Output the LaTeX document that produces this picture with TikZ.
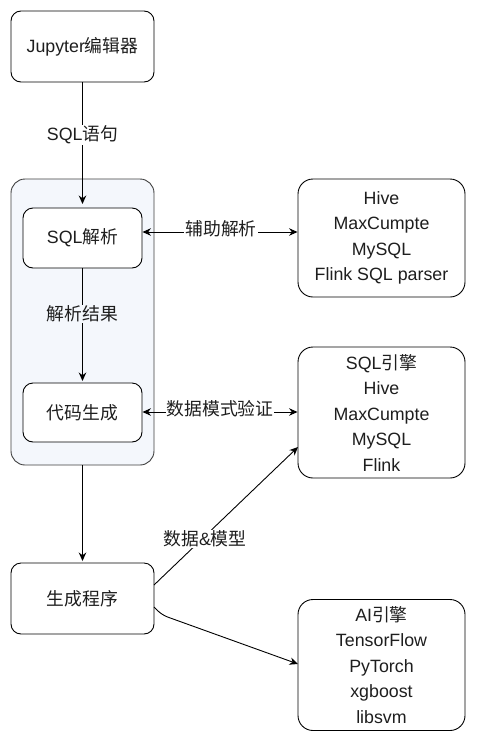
\documentclass[tikz,border=0pt]{standalone}
\usepackage{fontspec}
\setmainfont{Liberation Sans}
\newfontfamily\cjk{Noto Sans CJK SC}
\usetikzlibrary{arrows.meta}
\definecolor{grpfill}{RGB}{244,247,252}
\definecolor{txtcol}{RGB}{30,30,30}
\begin{document}
\begin{tikzpicture}[x=1pt,y=-1pt,
  every node/.style={font=\fontsize{17.8pt}{25.5pt}\selectfont, text=txtcol},
  box/.style={draw=black, line width=0.9pt, rounded corners=10pt, fill=white, inner sep=0pt, align=center},
  bigbox/.style={draw=black, line width=0.9pt, rounded corners=15pt, fill=white, inner sep=0pt, align=center},
  grp/.style={draw=black!75, line width=0.9pt, rounded corners=14pt, fill=grpfill, inner sep=0pt},
  conn/.style={line width=0.9pt, draw=black, -{Stealth[length=8.5pt,width=7.5pt]}},
  biconn/.style={line width=0.9pt, draw=black, {Stealth[length=8.5pt,width=7.5pt]}-{Stealth[length=8.5pt,width=7.5pt]}},
  lbl/.style={fill=white, inner sep=1pt}
]
\useasboundingbox (0,0) rectangle (478,742);
\fill[white] (0,0) rectangle (478,742);

% container
\node[grp, minimum width=143pt, minimum height=286pt] (grp) at (82.5,322) {};

% left column
\node[box, minimum width=143pt, minimum height=71pt] (jup) at (82.5,46.5) {Jupyter{\cjk 编辑器}};
\node[box, minimum width=119pt, minimum height=60pt] (parse) at (82.5,238) {SQL{\cjk 解析}};
\node[box, minimum width=119pt, minimum height=59pt] (gen) at (82.5,412.5) {\cjk 代码生成};
\node[box, minimum width=143pt, minimum height=71pt] (prog) at (82.5,598.5) {\cjk 生成程序};

% right column
\node[bigbox, minimum width=167pt, minimum height=118pt] (hive) at (381.5,238)
  {Hive\\MaxCumpte\\MySQL\\Flink SQL parser};
\node[bigbox, minimum width=167pt, minimum height=131pt] (sqle) at (381.5,412.5)
  {SQL{\cjk 引擎}\\Hive\\MaxCumpte\\MySQL\\Flink};
\node[bigbox, minimum width=167pt, minimum height=131pt] (aie) at (381.5,665)
  {AI{\cjk 引擎}\\TensorFlow\\PyTorch\\xgboost\\libsvm};

% connectors
\coordinate (jupend) at (82.5,204);
\draw[conn] (jup.south) -- (jupend);
\node[lbl] (l1) at (82.5,135) {SQL{\cjk 语句}};

\draw[biconn] (parse.east |- 0,232) -- (hive.west |- 0,232);
\node[lbl] (l2) at (221,229) {\cjk 辅助解析};

\coordinate (parend) at (82.5,381);
\draw[conn] (parse.south) -- (parend);
\node[lbl, fill=grpfill] (l3) at (82.5,314) {\cjk 解析结果};

\draw[biconn] (gen.east |- 0,412) -- (sqle.west |- 0,412);
\node[lbl] (l4) at (220,409) {\cjk 数据模式验证};

\coordinate (grpend) at (82.5,561);
\draw[conn] (grp.south) -- (grpend);

\coordinate (p1) at (154,585);
\coordinate (q1) at (298,447);
\draw[conn] (p1) -- (q1);
\node[lbl] (l5) at (205,539) {{\cjk 数据}\&{\cjk 模型}};

\coordinate (p2) at (154,607);
\coordinate (p2b) at (162,615);
\coordinate (q2) at (298,664);
\draw[conn, rounded corners=6pt] (p2) -- (p2b) -- (q2);
\end{tikzpicture}
\end{document}
